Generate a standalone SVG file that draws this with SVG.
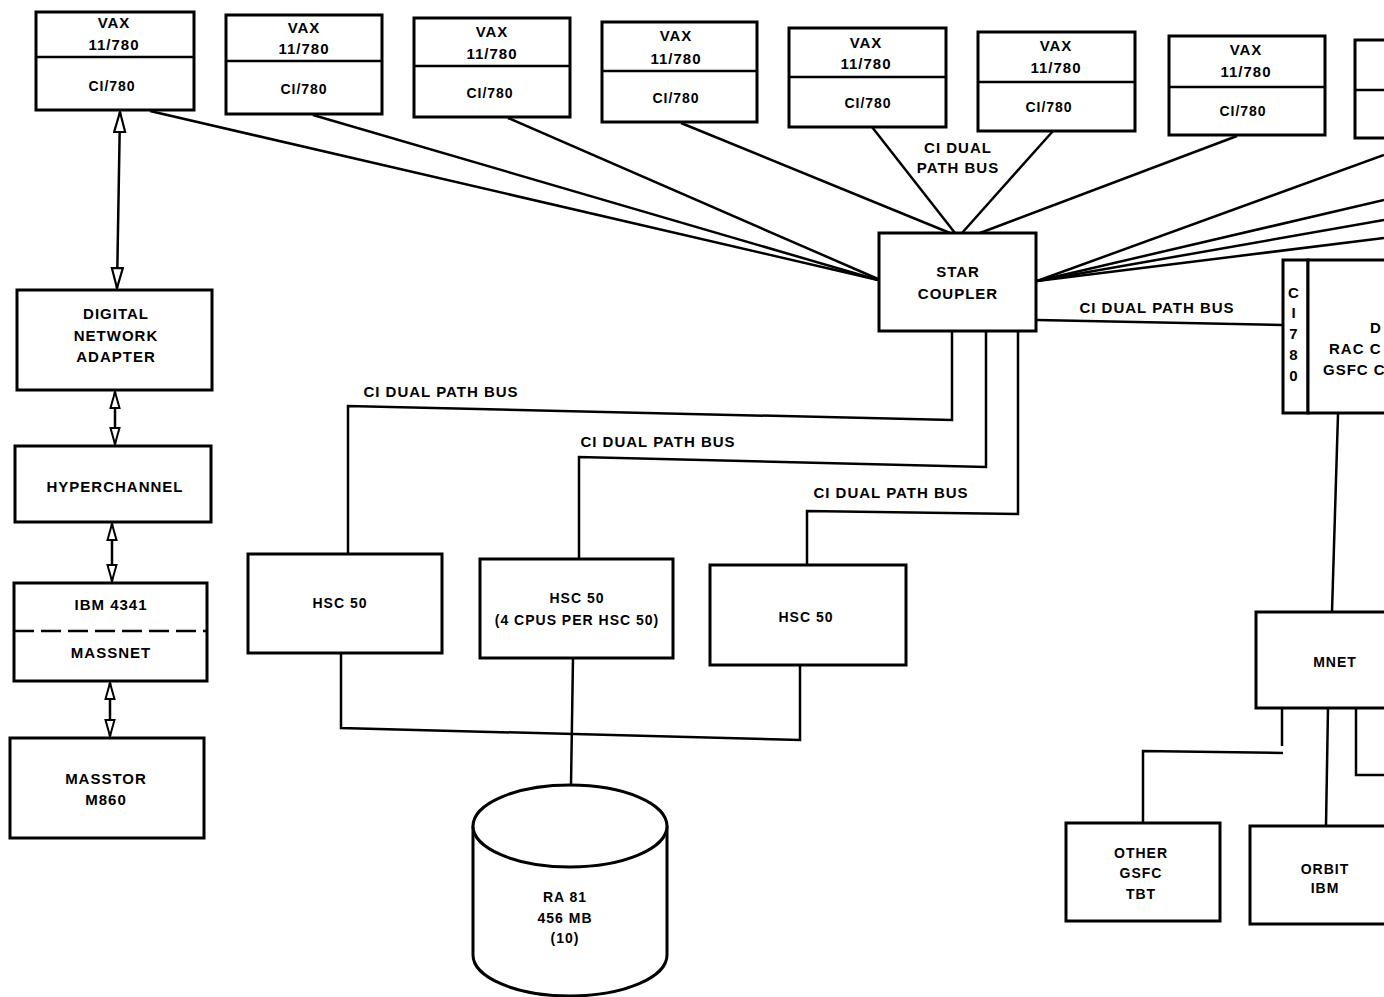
<svg xmlns="http://www.w3.org/2000/svg" width="1384" height="997" viewBox="0 0 1384 997">
<style>
.bx{fill:#fff;stroke:#000;stroke-width:3}
.ln{fill:none;stroke:#000;stroke-width:2.5}
.dv{stroke:#000;stroke-width:2.5}
text{font-family:"Liberation Sans",Arial,sans-serif;font-weight:bold;font-size:15px;fill:#000;text-anchor:middle;letter-spacing:1px}
.sm{font-size:14px}
.st{text-anchor:start}
</style>
<defs>
<marker id="oa" viewBox="0 0 22 14" refX="21" refY="7" markerWidth="22" markerHeight="14" markerUnits="userSpaceOnUse" orient="auto-start-reverse">
<path d="M1,1.5 L21,7 L1,12.5 Z" fill="#fff" stroke="#000" stroke-width="2.2"/>
</marker>
<marker id="os" viewBox="0 0 18 12" refX="17" refY="6" markerWidth="18" markerHeight="12" markerUnits="userSpaceOnUse" orient="auto-start-reverse">
<path d="M1,1.5 L17,6 L1,10.5 Z" fill="#fff" stroke="#000" stroke-width="2"/>
</marker>
</defs>
<rect width="1384" height="997" fill="#fff"/>

<g id="connectors">
<line class="ln" x1="150" y1="111" x2="878" y2="280"/>
<line class="ln" x1="313" y1="115" x2="878" y2="280"/>
<line class="ln" x1="508" y1="118" x2="878" y2="279"/>
<line class="ln" x1="681" y1="123" x2="950" y2="233"/>
<line class="ln" x1="872" y1="127" x2="955" y2="233"/>
<line class="ln" x1="1053" y1="131" x2="962" y2="233"/>
<line class="ln" x1="1237" y1="136" x2="980" y2="233"/>
<line class="ln" x1="1384" y1="155" x2="1037" y2="281"/>
<line class="ln" x1="1384" y1="200" x2="1037" y2="281"/>
<line class="ln" x1="1384" y1="220" x2="1037" y2="281"/>
<line class="ln" x1="1384" y1="238" x2="1037" y2="281"/>
<line class="ln" x1="1037" y1="320" x2="1283" y2="325"/>
<polyline class="ln" points="952,332 952,420 348,406 348,553"/>
<polyline class="ln" points="986,332 986,467 579,457 579,559"/>
<polyline class="ln" points="1018,332 1018,514 807,511 807,565"/>
<polyline class="ln" points="341,653 341,728 800,740 800,665"/>
<line class="ln" x1="573" y1="658" x2="571" y2="785"/>
<line class="ln" x1="120" y1="112" x2="117" y2="288" marker-start="url(#oa)" marker-end="url(#oa)"/>
<line class="ln" x1="115" y1="392" x2="115" y2="444" marker-start="url(#os)" marker-end="url(#os)"/>
<line class="ln" x1="112" y1="524" x2="112" y2="581" marker-start="url(#os)" marker-end="url(#os)"/>
<line class="ln" x1="110" y1="683" x2="110" y2="736" marker-start="url(#os)" marker-end="url(#os)"/>
<line class="ln" x1="1338" y1="414" x2="1332" y2="612"/>
<line class="ln" x1="1282" y1="708" x2="1282" y2="746"/>
<polyline class="ln" points="1283,753 1143,751 1143,823"/>
<line class="ln" x1="1328" y1="708" x2="1326" y2="826"/>
<polyline class="ln" points="1356,708 1356,775 1390,775"/>
</g>

<g id="labels">
<text x="958" y="153">CI DUAL</text>
<text x="958" y="173">PATH BUS</text>
<text x="1157" y="313">CI DUAL PATH BUS</text>
<text x="441" y="397">CI DUAL PATH BUS</text>
<text x="658" y="447">CI DUAL PATH BUS</text>
<text x="891" y="498">CI DUAL PATH BUS</text>
</g>

<g id="vax1"><rect class="bx" x="36" y="12" width="158" height="98"/><line class="dv" x1="36" y1="57" x2="194" y2="57"/>
<text x="114" y="28">VAX</text><text x="114" y="50">11/780</text><text x="112" y="91" class="sm">CI/780</text></g>
<g id="vax2"><rect class="bx" x="226" y="15" width="156" height="99"/><line class="dv" x1="226" y1="61" x2="382" y2="61"/>
<text x="304" y="33">VAX</text><text x="304" y="54">11/780</text><text x="304" y="94" class="sm">CI/780</text></g>
<g id="vax3"><rect class="bx" x="414" y="18" width="156" height="99"/><line class="dv" x1="414" y1="66" x2="570" y2="66"/>
<text x="492" y="37">VAX</text><text x="492" y="59">11/780</text><text x="490" y="98" class="sm">CI/780</text></g>
<g id="vax4"><rect class="bx" x="602" y="22" width="155" height="100"/><line class="dv" x1="602" y1="71" x2="757" y2="71"/>
<text x="676" y="41">VAX</text><text x="676" y="64">11/780</text><text x="676" y="103" class="sm">CI/780</text></g>
<g id="vax5"><rect class="bx" x="789" y="28" width="157" height="99"/><line class="dv" x1="789" y1="77" x2="946" y2="77"/>
<text x="866" y="48">VAX</text><text x="866" y="69">11/780</text><text x="868" y="108" class="sm">CI/780</text></g>
<g id="vax6"><rect class="bx" x="978" y="32" width="157" height="99"/><line class="dv" x1="978" y1="82" x2="1135" y2="82"/>
<text x="1056" y="51">VAX</text><text x="1056" y="73">11/780</text><text x="1049" y="112" class="sm">CI/780</text></g>
<g id="vax7"><rect class="bx" x="1169" y="36" width="156" height="99"/><line class="dv" x1="1169" y1="87" x2="1325" y2="87"/>
<text x="1246" y="55">VAX</text><text x="1246" y="77">11/780</text><text x="1243" y="116" class="sm">CI/780</text></g>
<g id="vax8"><rect class="bx" x="1355" y="40" width="80" height="98"/><line class="dv" x1="1355" y1="90" x2="1384" y2="90"/></g>

<g id="star-coupler"><rect class="bx" x="879" y="233" width="157" height="98"/>
<text x="958" y="277">STAR</text><text x="958" y="299">COUPLER</text></g>

<g id="ci780-host"><rect class="bx" x="1283" y="260" width="25" height="153"/><rect class="bx" x="1308" y="260" width="100" height="153"/>
<text x="1294" y="298">C</text><text x="1294" y="318">I</text><text x="1294" y="339">7</text><text x="1294" y="360">8</text><text x="1294" y="381">0</text>
<text class="st" x="1370" y="333">D</text><text class="st" x="1329" y="354">RAC C</text><text class="st" x="1323" y="375">GSFC C</text></g>

<g id="dna"><rect class="bx" x="17" y="290" width="195" height="100"/>
<text x="116" y="319">DIGITAL</text><text x="116" y="341">NETWORK</text><text x="116" y="362">ADAPTER</text></g>
<g id="hyperchannel"><rect class="bx" x="15" y="446" width="196" height="76"/>
<text x="115" y="492">HYPERCHANNEL</text></g>
<g id="ibm4341"><rect class="bx" x="14" y="583" width="193" height="98"/>
<line x1="14" y1="631" x2="207" y2="631" stroke="#000" stroke-width="2.5" stroke-dasharray="20,7"/>
<text x="111" y="610">IBM 4341</text><text x="111" y="658">MASSNET</text></g>
<g id="masstor"><rect class="bx" x="10" y="738" width="194" height="100"/>
<text x="106" y="784">MASSTOR</text><text x="106" y="805">M860</text></g>

<g id="hsc1"><rect class="bx" x="248" y="554" width="194" height="99"/><text x="340" y="608" class="sm">HSC 50</text></g>
<g id="hsc2"><rect class="bx" x="480" y="559" width="193" height="99"/><text x="577" y="603" class="sm">HSC 50</text><text x="577" y="625" class="sm">(4 CPUS PER HSC 50)</text></g>
<g id="hsc3"><rect class="bx" x="710" y="565" width="196" height="100"/><text x="806" y="622" class="sm">HSC 50</text></g>

<g id="ra81">
<path d="M473,826 L473,955 A97,41 0 0 0 667,955 L667,826" fill="#fff" stroke="#000" stroke-width="3"/>
<ellipse cx="570" cy="826" rx="97" ry="41" fill="#fff" stroke="#000" stroke-width="3"/>
<text x="565" y="902" class="sm">RA 81</text><text x="565" y="923" class="sm">456 MB</text><text x="565" y="943" class="sm">(10)</text></g>

<g id="mnet"><rect class="bx" x="1256" y="612" width="140" height="96"/><text x="1335" y="667" class="sm">MNET</text></g>
<g id="other-gsfc"><rect class="bx" x="1066" y="823" width="154" height="98"/>
<text x="1141" y="858" class="sm">OTHER</text><text x="1141" y="878" class="sm">GSFC</text><text x="1141" y="899" class="sm">TBT</text></g>
<g id="orbit"><rect class="bx" x="1250" y="826" width="150" height="98"/>
<text x="1325" y="874" class="sm">ORBIT</text><text x="1325" y="893" class="sm">IBM</text></g>
</svg>
